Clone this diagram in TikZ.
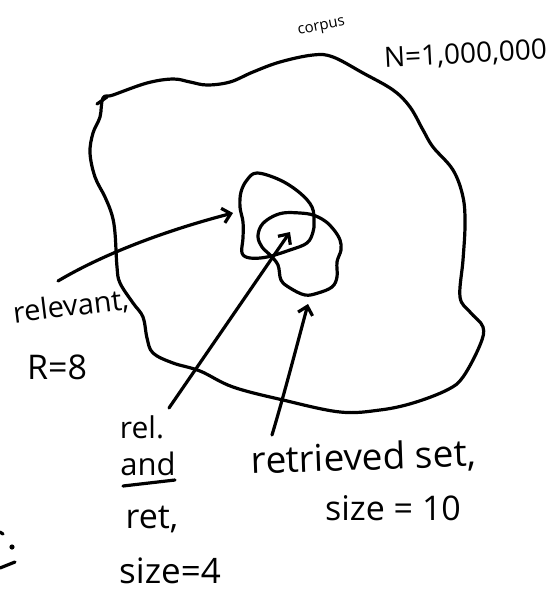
\documentclass[tikz,border=0pt]{standalone}
\usepackage{fontspec}
\setmainfont{Open Sans}
\usetikzlibrary{arrows.meta}
\newcommand{\fsz}[1]{\fontsize{#1}{#1}\selectfont}
\begin{document}
\begin{tikzpicture}[x=1pt,y=-1pt,
  pen/.style={line width=3.2pt, line cap=round, line join=round},
  harrow/.style={pen, -{Straight Barb[length=8pt,width=15pt]}},
  lbl/.style={inner sep=0pt, anchor=base}]
\useasboundingbox (0,0) rectangle (553,592);

% corpus outline
\draw[pen] plot[smooth cycle, tension=0.6] coordinates {
 (103,98) (113,95) (147,83) (173,79) (190,82) (207,85) (230,82) (253,72)
 (280,62) (313,55) (333,57) (363,73) (393,90) (410,107) (423,130) (433,147)
 (453,170) (463,197) (465,225) (463,260) (460,297) (470,312) (483,327)
 (480,345) (463,377) (447,390) (413,403) (380,410) (340,412) (283,400)
 (233,387) (200,371) (173,363) (153,353) (147,338) (143,317) (133,303)
 (120,283) (117,267) (115,233) (112,215) (105,197) (95,177) (90,153)
 (93,133) (100,117)};
\draw[pen] (97,104) -- (107,97);

% relevant set
\draw[pen] plot[smooth cycle, tension=0.6] coordinates {
 (257,173) (280,180) (300,193) (312,207) (314,222) (313,232) (307,243)
 (290,250) (267,257) (250,258) (242,253) (243,238) (243,222) (240,207)
 (241,192) (247,180)};

% retrieved set
\draw[pen] plot[smooth cycle, tension=0.6] coordinates {
 (283,213) (300,213) (313,215) (325,221) (334,230) (340,240) (341,250)
 (337,262) (337,277) (332,287) (318,293) (305,295) (290,288) (281,280)
 (278,265) (270,255) (262,247) (258,237) (261,226) (270,218)};

% labels
\node[lbl, rotate=11] (corpus) at (322,30) {\fsz{15}corpus};
\node[lbl, rotate=3] (N) at (466,63) {\fsz{28}N=1,000,000};
\node[lbl, rotate=7] (relevant) at (72,316) {\fsz{29}relevant,};
\node[lbl] (R) at (57,379) {\fsz{34}R=8};
\node[lbl] (rel) at (142,438) {\fsz{30}rel.};
\node[lbl] (and) at (148,475) {\fsz{31}and};
\node[lbl] (ret) at (152,528) {\fsz{34}ret,};
\node[lbl] (size4) at (170,583) {\fsz{35}size=4};
\node[lbl, rotate=2] (retrieved) at (364,470) {\fsz{37}retrieved set,};
\node[lbl] (size10) at (393,520) {\fsz{34}size = 10};

% underline of "and"
\coordinate (ulA) at (123,486);
\coordinate (ulB) at (175,480);
\draw[pen] (ulA) -- (ulB);

% arrows
\coordinate (relTail) at (58,281);
\coordinate (relHead) at (233,213);
\draw[harrow] (relTail) .. controls (100,256) and (160,232) .. (relHead);

\coordinate (andTail) at (169,408);
\coordinate (andHead) at (290,232);
\draw[harrow] (andTail) -- (andHead);

\coordinate (retTail) at (272,435);
\coordinate (retHead) at (308,304);
\draw[harrow] (retTail) .. controls (284,395) and (297,345) .. (retHead);

% cut-off marks at the left edge
\fill (12,547) circle (2.6);
\draw[pen] (0,568) -- (15,562);
\draw[pen] (0,532) -- (3,534);
\end{tikzpicture}
\end{document}
